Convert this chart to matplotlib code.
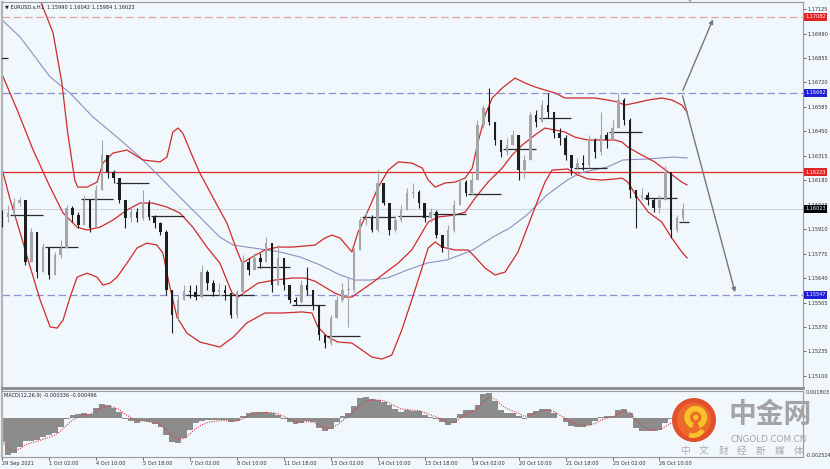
import matplotlib
matplotlib.use("Agg")
import matplotlib.pyplot as plt
from matplotlib.patches import Circle, Wedge
import numpy as np
import pandas as pd

plt.rcParams['font.family'] = ['DejaVu Sans', 'Noto Sans CJK SC']

# ---- price bars (one bar per 4 hours) ----
FIRST_OPEN = 1.16010
CLOSES = [
    1.15977, 1.15999, 1.16054, 1.16071, 1.15729, 1.15894, 1.15673, 1.15811, 1.15657, 1.15767,
    1.15806, 1.16027, 1.15988, 1.15933, 1.16071, 1.15916, 1.16126, 1.16319, 1.16225, 1.16192,
    1.16071, 1.15971, 1.16005, 1.15971, 1.16054, 1.15977, 1.15944, 1.15894, 1.15574, 1.15436,
    1.15519, 1.15568, 1.15563, 1.15535, 1.15673, 1.15612, 1.15563, 1.15574, 1.15557, 1.15436,
    1.15563, 1.15729, 1.15684, 1.15751, 1.15729, 1.15833, 1.15601, 1.15751, 1.15601, 1.15519,
    1.15508, 1.15601, 1.15574, 1.15491, 1.15325, 1.15281, 1.15419, 1.15519, 1.15574, 1.15574,
    1.15795, 1.15960, 1.15971, 1.15905, 1.16164, 1.16054, 1.15905, 1.15960, 1.16016, 1.16109,
    1.16115, 1.16054, 1.15971, 1.16005, 1.15878, 1.15806, 1.15905, 1.16043, 1.16170, 1.16109,
    1.16181, 1.16485, 1.16579, 1.16501, 1.16402, 1.16336, 1.16374, 1.16429, 1.16236, 1.16292,
    1.16540, 1.16501, 1.16595, 1.16557, 1.16440, 1.16413, 1.16319, 1.16247, 1.16275, 1.16264,
    1.16402, 1.16336, 1.16429, 1.16402, 1.16468, 1.16623, 1.16512, 1.16126, 1.16082, 1.16098,
    1.16071, 1.16027, 1.16071, 1.16225, 1.15905, 1.15971, 1.16023]
HIGHS = [
    1.16016, 1.16043, 1.16082, 1.16088, 1.16071, 1.15916, 1.15795, 1.15833, 1.15767, 1.15784,
    1.15850, 1.16043, 1.16038, 1.16005, 1.16098, 1.16043, 1.16154, 1.16402, 1.16275, 1.16236,
    1.16181, 1.16043, 1.16032, 1.16027, 1.16126, 1.16071, 1.15988, 1.15949, 1.15905, 1.15574,
    1.15546, 1.15601, 1.15601, 1.15601, 1.15712, 1.15684, 1.15629, 1.15612, 1.15601, 1.15519,
    1.15574, 1.15767, 1.15751, 1.15778, 1.15778, 1.15866, 1.15822, 1.15822, 1.15751, 1.15574,
    1.15535, 1.15629, 1.15701, 1.15574, 1.15464, 1.15325, 1.15436, 1.15541, 1.15612, 1.15640,
    1.15806, 1.15977, 1.16005, 1.15988, 1.16236, 1.16154, 1.16043, 1.15988, 1.16043, 1.16137,
    1.16164, 1.16126, 1.16054, 1.16027, 1.16016, 1.15878, 1.15933, 1.16071, 1.16192, 1.16181,
    1.16225, 1.16512, 1.16595, 1.16689, 1.16501, 1.16402, 1.16413, 1.16457, 1.16429, 1.16319,
    1.16557, 1.16568, 1.16623, 1.16662, 1.16557, 1.16468, 1.16429, 1.16319, 1.16303, 1.16319,
    1.16429, 1.16413, 1.16557, 1.16446, 1.16512, 1.16662, 1.16634, 1.16523, 1.16126, 1.16137,
    1.16115, 1.16082, 1.16098, 1.16258, 1.16225, 1.15988, 1.16054]
LOWS = [
    1.15921, 1.15949, 1.15988, 1.16038, 1.15712, 1.15795, 1.15640, 1.15751, 1.15634, 1.15740,
    1.15751, 1.15850, 1.15949, 1.15916, 1.15949, 1.15894, 1.16016, 1.16209, 1.16192, 1.16164,
    1.16054, 1.15916, 1.15949, 1.15949, 1.15960, 1.15960, 1.15916, 1.15878, 1.15546, 1.15336,
    1.15408, 1.15519, 1.15530, 1.15519, 1.15530, 1.15574, 1.15541, 1.15546, 1.15519, 1.15419,
    1.15419, 1.15546, 1.15657, 1.15712, 1.15695, 1.15729, 1.15563, 1.15684, 1.15574, 1.15502,
    1.15491, 1.15502, 1.15546, 1.15464, 1.15298, 1.15254, 1.15270, 1.15419, 1.15508, 1.15370,
    1.15563, 1.15795, 1.15933, 1.15894, 1.15894, 1.16043, 1.15878, 1.15894, 1.15949, 1.16016,
    1.16082, 1.16027, 1.15949, 1.15949, 1.15861, 1.15784, 1.15751, 1.15894, 1.16043, 1.16093,
    1.16098, 1.16181, 1.16468, 1.16485, 1.16374, 1.16308, 1.16319, 1.16374, 1.16181, 1.16192,
    1.16292, 1.16473, 1.16523, 1.16523, 1.16413, 1.16374, 1.16292, 1.16209, 1.16236, 1.16236,
    1.16247, 1.16303, 1.16319, 1.16358, 1.16402, 1.16485, 1.16485, 1.16082, 1.15916, 1.16071,
    1.16043, 1.16005, 1.15999, 1.16082, 1.15861, 1.15894, 1.15949]

# ---- Bollinger bands and slow moving average, traced points (bar index, price) ----
UPPER_IDX = [4.8, 6.5, 8.7, 10.2, 11.2, 12.4, 12.9, 14.5, 16.2, 17.2, 18.9, 21.3, 24.0, 26.9, 28.1,
             29.1, 30.0, 30.8, 32.5, 33.7, 35.9, 38.3, 40.0, 40.9, 42.6, 44.8, 47.0, 49.4, 51.6, 53.3,
             55.0, 56.2, 57.6, 58.9, 59.6, 60.6, 62.4, 64.1, 65.8, 67.5, 69.8, 71.6, 72.6, 73.8, 75.5,
             77.2, 78.9, 80.1, 81.1, 82.3, 83.5, 85.2, 87.4, 89.1, 90.8, 92.5, 94.2, 95.9, 98.8, 101.0,
             103.2, 104.9, 106.1, 107.8, 110.1, 112.4, 114.1, 115.8, 116.7]
UPPER_PX = [1.17395, 1.17175, 1.16993, 1.16717, 1.16440, 1.16181, 1.16142, 1.16142, 1.16170, 1.16275,
            1.16330, 1.16347, 1.16292, 1.16281, 1.16308, 1.16446, 1.16468, 1.16440, 1.16308, 1.16220,
            1.16087, 1.15944, 1.15795, 1.15723, 1.15756, 1.15795, 1.15811, 1.15811, 1.15817, 1.15822,
            1.15861, 1.15877, 1.15861, 1.15811, 1.15784, 1.15888, 1.16016, 1.16142, 1.16236, 1.16281,
            1.16275, 1.16247, 1.16181, 1.16142, 1.16165, 1.16170, 1.16192, 1.16247, 1.16391, 1.16540,
            1.16634, 1.16689, 1.16744, 1.16717, 1.16695, 1.16678, 1.16662, 1.16634, 1.16634, 1.16634,
            1.16623, 1.16612, 1.16595, 1.16606, 1.16623, 1.16634, 1.16623, 1.16595, 1.16556]
MID_IDX = [-0.3, 2.6, 5.3, 8.2, 10.4, 12.8, 14.5, 16.7, 18.9, 21.3, 23.5, 25.7, 28.1, 30.3, 32.5,
           34.9, 37.1, 39.2, 40.2, 41.4, 43.6, 46.5, 49.4, 51.6, 53.3, 55.0, 56.7, 58.4, 59.6, 61.3,
           63.0, 65.2, 67.5, 69.8, 71.6, 72.6, 74.3, 77.2, 78.9, 80.6, 82.8, 85.2, 86.9, 88.6, 90.8,
           92.5, 94.2, 95.9, 97.6, 99.8, 102.2, 104.4, 105.6, 106.6, 109.0, 111.2, 113.5, 115.8, 116.7]
MID_PX = [1.16788, 1.16567, 1.16347, 1.16142, 1.15999, 1.15921, 1.15905, 1.15921, 1.15960, 1.16016,
          1.16054, 1.16054, 1.16032, 1.15999, 1.15921, 1.15811, 1.15723, 1.15557, 1.15535, 1.15563,
          1.15612, 1.15629, 1.15640, 1.15640, 1.15623, 1.15590, 1.15557, 1.15535, 1.15535, 1.15574,
          1.15612, 1.15667, 1.15723, 1.15795, 1.15894, 1.15949, 1.15977, 1.15988, 1.16004, 1.16082,
          1.16170, 1.16247, 1.16319, 1.16374, 1.16430, 1.16468, 1.16457, 1.16446, 1.16418, 1.16402,
          1.16402, 1.16402, 1.16391, 1.16363, 1.16319, 1.16281, 1.16225, 1.16170, 1.16154]
LOW_IDX = [-0.3, 1.4, 3.1, 4.8, 6.5, 8.2, 9.4, 10.4, 11.6, 12.8, 14.5, 16.2, 17.2, 18.4, 19.6,
           21.3, 23.0, 24.7, 26.4, 27.4, 28.6, 29.8, 31.5, 33.7, 37.1, 39.4, 41.7, 44.8, 47.7, 51.1,
           52.8, 53.8, 55.5, 57.2, 59.6, 61.3, 63.0, 64.7, 66.4, 68.1, 69.8, 71.6, 72.6, 73.8, 75.0,
           77.2, 79.4, 80.6, 82.3, 84.0, 85.7, 87.9, 90.3, 92.5, 93.7, 96.4, 98.1, 99.8, 102.2, 104.4,
           105.6, 106.6, 108.3, 110.1, 112.4, 114.1, 115.8, 116.7]
LOW_PX = [1.16280, 1.16071, 1.15889, 1.15701, 1.15519, 1.15370, 1.15364, 1.15408, 1.15535, 1.15645,
          1.15667, 1.15645, 1.15601, 1.15612, 1.15645, 1.15723, 1.15806, 1.15833, 1.15822, 1.15778,
          1.15590, 1.15425, 1.15336, 1.15287, 1.15259, 1.15314, 1.15392, 1.15447, 1.15447, 1.15453,
          1.15447, 1.15370, 1.15314, 1.15287, 1.15281, 1.15243, 1.15204, 1.15193, 1.15215, 1.15353,
          1.15519, 1.15701, 1.15806, 1.15839, 1.15811, 1.15795, 1.15795, 1.15756, 1.15695, 1.15657,
          1.15673, 1.15784, 1.15988, 1.16170, 1.16236, 1.16242, 1.16209, 1.16187, 1.16181, 1.16187,
          1.16192, 1.16170, 1.16082, 1.16004, 1.15949, 1.15861, 1.15784, 1.15751]
MA_IDX = [-0.3, 3.1, 8.2, 11.6, 15.5, 19.6, 23.5, 26.9, 30.3, 33.7, 37.1, 39.4, 42.8, 47.4, 50.8,
          54.2, 57.6, 60.1, 62.7, 65.6, 69.0, 72.4, 75.8, 78.0, 80.2, 83.6, 86.5, 89.4, 92.8, 96.3,
          98.5, 100.7, 103.1, 105.8, 109.9, 112.1, 114.3, 116.7]
MA_PX = [1.17075, 1.16970, 1.16750, 1.16661, 1.16529, 1.16418, 1.16308, 1.16198, 1.16087, 1.15977,
         1.15866, 1.15822, 1.15806, 1.15784, 1.15756, 1.15712, 1.15657, 1.15629, 1.15629, 1.15640,
         1.15684, 1.15723, 1.15740, 1.15767, 1.15795, 1.15866, 1.15916, 1.15988, 1.16098, 1.16181,
         1.16220, 1.16236, 1.16253, 1.16292, 1.16297, 1.16303, 1.16308, 1.16303]

# daily level segments, one per trading day starting with the day before the first bar
DAY_LEVELS = [1.16855, 1.15988, 1.15811, 1.16076, 1.16165, 1.15982, 1.15546, 1.15546, 1.15701,
              1.15491, 1.15320, 1.15977, 1.15982, 1.15993, 1.16104, 1.16352, 1.16523, 1.16247,
              1.16446, 1.16082, 1.15949]
BARS_PER_DAY = 6
FIRST_DAY_START = 1.4 - BARS_PER_DAY

# MACD(12,26,9) main value per bar
MACD = [
    -0.00160, -0.00253, -0.00241, -0.00199, -0.00153, -0.00155, -0.00148, -0.00132, -0.00118, -0.00101,
    -0.00059, -0.00008, 0.00022, 0.00029, 0.00038, 0.00029, 0.00068, 0.00101, 0.00089, 0.00071,
    0.00043, -0.00004, -0.00022, -0.00031, -0.00022, -0.00027, -0.00039, -0.00059, -0.00113, -0.00160,
    -0.00167, -0.00136, -0.00078, -0.00036, -0.00020, -0.00013, -0.00013, -0.00013, -0.00015, -0.00025,
    -0.00020, 0.00015, 0.00036, 0.00045, 0.00045, 0.00043, 0.00038, 0.00022, -0.00004, -0.00027,
    -0.00039, -0.00031, -0.00020, -0.00027, -0.00066, -0.00090, -0.00073, -0.00027, 0.00015, 0.00038,
    0.00085, 0.00136, 0.00145, 0.00131, 0.00127, 0.00115, 0.00089, 0.00061, 0.00045, 0.00057,
    0.00050, 0.00050, 0.00024, 0.00010, -0.00008, -0.00027, -0.00048, -0.00031, 0.00027, 0.00057,
    0.00057, 0.00089, 0.00166, 0.00173, 0.00120, 0.00057, 0.00038, 0.00034, 0.00015, -0.00008,
    0.00034, 0.00050, 0.00061, 0.00066, 0.00034, -0.00001, -0.00027, -0.00055, -0.00062, -0.00060,
    -0.00046, -0.00022, 0.00008, 0.00015, 0.00015, 0.00055, 0.00061, 0.00034, -0.00066, -0.00090,
    -0.00090, -0.00090, -0.00078, -0.00036, -0.00008, -0.00025, -0.00034]

TIME_LABELS = ["29 Sep 2021", "1 Oct 02:00", "4 Oct 10:00", "5 Oct 18:00", "7 Oct 02:00",
               "8 Oct 10:00", "11 Oct 18:00", "13 Oct 02:00", "14 Oct 10:00", "15 Oct 18:00",
               "19 Oct 02:00", "20 Oct 10:00", "21 Oct 18:00", "25 Oct 02:00", "26 Oct 10:00"]
LABEL_EVERY = 8

PRICE_TICKS = [1.17125, 1.16990, 1.16855, 1.16720, 1.16585, 1.16450, 1.16315, 1.16180, 1.16045,
               1.15910, 1.15775, 1.15640, 1.15505, 1.15370, 1.15235, 1.15100]
TARGET_UP = 1.17082
RESIST = 1.16662
PIVOT = 1.16223
LAST = 1.16023
TARGET_DN = 1.15547
MACD_MAX = 0.001803
MACD_MIN = -0.002524

BG = "#f0f7fd"
W, H = 830, 469


def fx(px):
    return px / W


def fy(py):
    return 1 - py / H


fig = plt.figure(figsize=(W / 100, H / 100), dpi=100, facecolor=BG)
ax = fig.add_axes([fx(2), fy(388), fx(803) - fx(2), fy(2) - fy(388)], facecolor=BG)
mx = fig.add_axes([fx(2), fy(457), fx(803) - fx(2), fy(391) - fy(457)], facecolor=BG)

n = len(CLOSES)
idx = np.arange(n)
c = np.array(CLOSES)
o = np.r_[FIRST_OPEN, c[:-1]]
hi = np.maximum(np.array(HIGHS), np.maximum(o, c))
lo = np.minimum(np.array(LOWS), np.minimum(o, c))
bull = c >= o
cols = np.where(bull, "#a6a6a6", "#1e1e1e")

XMAX = 136.45
ax.set_xlim(0, XMAX)
ax.set_ylim(1.15033, 1.17164)

# horizontal levels
ax.axhline(TARGET_UP, color="#e6a3a3", lw=0.9, ls=(0, (6, 3)), zorder=1)
ax.axhline(RESIST, color="#8f8fd6", lw=0.9, ls=(0, (6, 3)), zorder=1)
ax.axhline(PIVOT, color="#de2c2c", lw=0.9, zorder=1)
ax.axhline(LAST, color="#c8ccd0", lw=0.6, zorder=1)
ax.axhline(TARGET_DN, color="#8f8fd6", lw=0.9, ls=(0, (6, 3)), zorder=1)

# bands and average
ax.plot(MA_IDX, MA_PX, color="#8f8fc0", lw=0.8, zorder=2)
for xs, ys in [(UPPER_IDX, UPPER_PX), (MID_IDX, MID_PX), (LOW_IDX, LOW_PX)]:
    ax.plot(xs, ys, color="#d02a2a", lw=0.9, zorder=2)

# daily levels
starts = FIRST_DAY_START + BARS_PER_DAY * np.arange(len(DAY_LEVELS))
ends = np.minimum(starts + BARS_PER_DAY * 0.93, n)
ax.hlines(DAY_LEVELS, starts, ends, color="#2a2a2a", lw=0.9, zorder=3)

# candles
ax.vlines(idx, lo, hi, colors=cols, lw=0.8, zorder=4)
body = np.maximum(np.abs(c - o), 0.00003)
ax.bar(idx, body, bottom=np.minimum(o, c), width=0.42, color=cols, lw=0, zorder=5)

# scenario arrows
ax.annotate("", xy=(121.3, TARGET_UP), xytext=(115.8, RESIST),
            arrowprops=dict(arrowstyle="-|>", color="#777777", lw=1.0, mutation_scale=6), zorder=6)
ax.annotate("", xy=(125.0, TARGET_DN), xytext=(115.8, RESIST),
            arrowprops=dict(arrowstyle="-|>", color="#777777", lw=1.0, mutation_scale=6), zorder=6)

ax.text(117.2, 1.17164, "\u25bc", fontsize=4, color="#b0b0b0", ha="center", va="center")
ax.text(0.004, 0.994, "\u25bc EURUSD.s,H1  1.15990 1.16042 1.15984 1.16023", transform=ax.transAxes,
        fontsize=3.6, color="#202020", va="top", ha="left")

ax.yaxis.tick_right()
ax.set_yticks(PRICE_TICKS)
ax.set_yticklabels([f"{p:.5f}" for p in PRICE_TICKS])
ax.set_xticks([])
ax.tick_params(axis="y", labelsize=3.6, length=2, width=0.5, pad=1, colors="#303030")
for s in ax.spines.values():
    s.set_color("#9a9a9a")
    s.set_linewidth(0.8)
ax.spines["bottom"].set_color("#8a8a8a")
ax.spines["bottom"].set_linewidth(2.0)
ax.spines["left"].set_color("#b4b4b4")
ax.spines["left"].set_linewidth(1.6)

for price, colour in [(TARGET_UP, "#e02424"), (RESIST, "#1f1fd8"), (PIVOT, "#e02424"),
                      (LAST, "#000000"), (TARGET_DN, "#1f1fd8")]:
    ax.annotate(f"{price:.5f}", xy=(1.0, price), xycoords=("axes fraction", "data"),
                xytext=(1.6, 0), textcoords="offset points", va="center", ha="left",
                fontsize=3.6, color="white", annotation_clip=False,
                bbox=dict(boxstyle="square,pad=0.3", fc=colour, ec="none"))

# MACD panel
signal = pd.Series(MACD).ewm(span=3, adjust=False).mean()
mx.bar(idx, MACD, width=1.0, color="#8c8c8c", lw=0)
mx.plot(idx, signal, color="#d04040", lw=0.8, ls=(0, (1, 1.2)))
mx.set_xlim(0, XMAX)
mx.set_ylim(MACD_MIN - 0.00014, MACD_MAX + 0.00007)
mx.yaxis.tick_right()
mx.set_yticks([MACD_MAX, MACD_MIN])
mx.set_yticklabels([f"{MACD_MAX:.6f}", f"{MACD_MIN:.6f}"])
mx.tick_params(axis="y", labelsize=3.6, length=0, pad=2, colors="#303030")
mx.set_xticks(np.arange(len(TIME_LABELS)) * LABEL_EVERY)
mx.set_xticklabels(TIME_LABELS, ha="left")
mx.tick_params(axis="x", labelsize=3.6, length=2, width=0.5, pad=1, colors="#303030")
for s in mx.spines.values():
    s.set_color("#9a9a9a")
    s.set_linewidth(0.8)
mx.spines["left"].set_color("#b4b4b4")
mx.spines["left"].set_linewidth(1.6)
mx.text(0.003, 0.97, "MACD(12,26,9) -0.000336 -0.000496", transform=mx.transAxes,
        fontsize=3.6, color="#202020", va="top", ha="left")

# watermark logo
lg = fig.add_axes([fx(672), fy(442), 44 / W, 44 / H])
lg.set_xlim(-1, 1)
lg.set_ylim(-1, 1)
lg.axis("off")
lg.add_patch(Circle((0, 0), 1.0, fc="#e2502b", ec="none"))
lg.add_patch(Circle((0, 0), 0.78, fc="#ec6a2a", ec="none"))
lg.add_patch(Wedge((0.08, 0.12), 0.52, -70, 250, width=0.26, fc="#f8c22a", ec="none"))
lg.add_patch(Wedge((-0.05, -0.2), 0.62, 250, 330, width=0.22, fc="#f8c22a", ec="none"))
lg.add_patch(Circle((0.08, 0.12), 0.12, fc="#f8c22a", ec="none"))

fig.text(fx(770), fy(415), "中金网", fontsize=20, fontweight="bold", color="#a4a4a4",
         ha="center", va="center", family="Noto Sans CJK SC")
fig.text(fx(769), fy(439), "CNGOLD.COM.CN", fontsize=6.3, color="#a4a4a4", ha="center", va="center")
for k, ch in enumerate("中文财经新媒体"):
    fig.text(fx(685 + 19 * k), fy(451), ch, fontsize=7, color="#aaaaaa",
             ha="center", va="center", family="Noto Sans CJK SC")

fig.savefig("out.png", dpi=100, facecolor=BG)
